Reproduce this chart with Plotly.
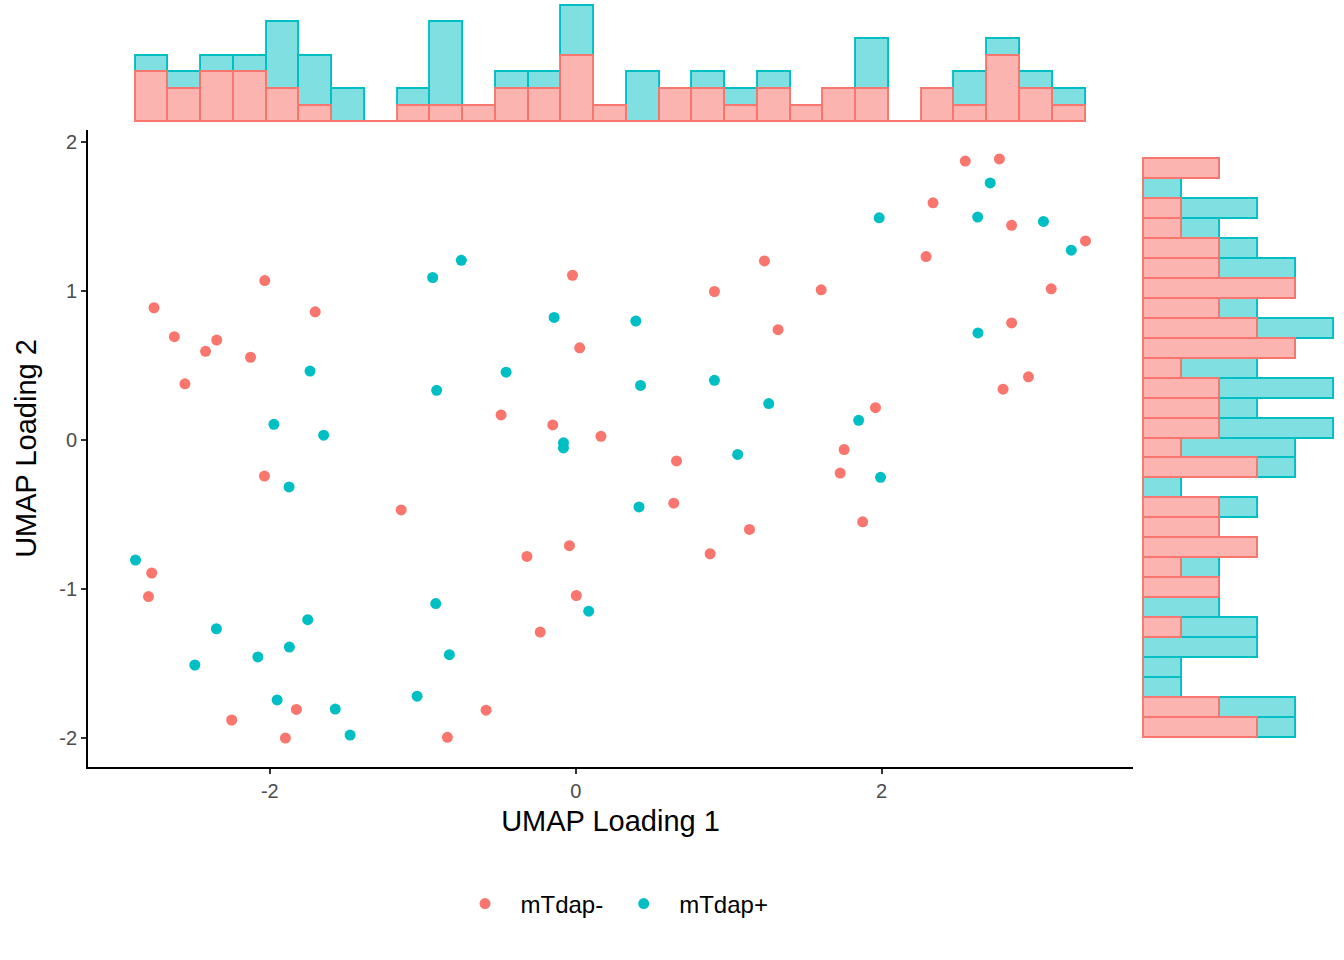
import numpy as np
import plotly.graph_objects as go

# ---------------- data ----------------
groups = ["mTdap-", "mTdap+"]

neg_x = [-2.757, -2.624, -2.347, -2.420, -2.555, -2.126, -2.033, -1.703, -0.021, 0.026,
         -0.488, -0.150, 0.165, -2.035, -1.141, -2.772, -2.793, -2.249, -1.826, -1.898,
         -0.839, -0.586, -0.319, -0.041, 0.004, -0.232, 2.547, 2.770, 2.336, 2.850,
         3.333, 2.291, 1.234, 0.907, 1.605, 1.323, 3.109, 2.850, 2.960, 2.794,
         1.960, 0.659, 1.755, 1.729, 0.641, 1.136, 0.879, 1.876]
neg_y = [0.887, 0.693, 0.670, 0.595, 0.377, 0.555, 1.069, 0.860, 1.105, 0.618,
         0.168, 0.101, 0.025, -0.242, -0.469, -0.892, -1.050, -1.878, -1.807, -1.999,
         -1.994, -1.812, -0.781, -0.709, -1.043, -1.288, 1.871, 1.885, 1.591, 1.440,
         1.335, 1.230, 1.201, 0.996, 1.007, 0.740, 1.014, 0.785, 0.424, 0.341,
         0.217, -0.140, -0.064, -0.222, -0.424, -0.600, -0.763, -0.549]

pos_x = [-0.935, -0.748, -0.141, -1.737, -0.909, -0.455, -1.973, -1.648, -0.080, -0.080,
         -1.874, -2.878, -2.349, -2.490, -2.078, -1.872, -1.752, -1.952, -1.572, -1.475,
         -0.915, -0.826, -1.037, 0.085, 2.710, 1.984, 2.628, 3.058, 3.240, 2.630,
         0.393, 0.424, 0.907, 1.262, 1.850, 1.059, 1.993, 0.414]
pos_y = [1.090, 1.205, 0.822, 0.462, 0.333, 0.455, 0.105, 0.032, -0.019, -0.053,
         -0.315, -0.805, -1.266, -1.509, -1.455, -1.389, -1.205, -1.743, -1.805, -1.979,
         -1.097, -1.440, -1.718, -1.148, 1.724, 1.490, 1.495, 1.466, 1.273, 0.718,
         0.798, 0.366, 0.400, 0.244, 0.132, -0.097, -0.250, -0.449]

x_ticks = [-2, 0, 2]
x_tick_labels = ["-2", "0", "2"]
y_ticks = [-2, -1, 0, 1, 2]
y_tick_labels = ["-2", "-1", "0", "1", "2"]
N_BINS = 29

# ---------------- styling ----------------
RED = "#F8766D"
TEAL = "#00BFC4"
RED_FILL = "rgba(248,118,109,0.55)"
TEAL_FILL = "rgba(0,191,196,0.5)"
FONT = "Arial, Liberation Sans, Helvetica, sans-serif"
W, H = 1344, 960

# ---------------- binning (from data) ----------------
all_x = np.array(neg_x + pos_x)
all_y = np.array(neg_y + pos_y)
xedges = np.linspace(all_x.min(), all_x.max(), N_BINS + 1)
yedges = np.linspace(all_y.min(), all_y.max(), N_BINS + 1)
nx_c, _ = np.histogram(neg_x, xedges)
px_c, _ = np.histogram(pos_x, xedges)
ny_c, _ = np.histogram(neg_y, yedges)
py_c, _ = np.histogram(pos_y, yedges)
xcent = (xedges[:-1] + xedges[1:]) / 2
ycent = (yedges[:-1] + yedges[1:]) / 2
xw = np.diff(xedges)
yw = np.diff(yedges)

xr = all_x.max() - all_x.min()
yr = all_y.max() - all_y.min()
x_range = [all_x.min() - 0.05 * xr, all_x.max() + 0.05 * xr]
y_range = [all_y.min() - 0.05 * yr, all_y.max() + 0.05 * yr]
top_max = (nx_c + px_c).max()
right_max = (ny_c + py_c).max()

fig = go.Figure()

# top marginal histogram (stacked: mTdap- at base, mTdap+ on top)
fig.add_trace(go.Bar(x=xcent, y=px_c, base=nx_c, width=xw, xaxis="x2", yaxis="y2",
                     marker=dict(color=TEAL_FILL, line=dict(color=TEAL, width=1.9)),
                     showlegend=False, hoverinfo="skip"))
fig.add_trace(go.Bar(x=xcent, y=nx_c, width=xw, xaxis="x2", yaxis="y2",
                     marker=dict(color=RED_FILL, line=dict(color=RED, width=1.9)),
                     showlegend=False, hoverinfo="skip"))
# right marginal histogram
fig.add_trace(go.Bar(y=ycent, x=py_c, base=ny_c, width=yw, orientation="h", xaxis="x3", yaxis="y3",
                     marker=dict(color=TEAL_FILL, line=dict(color=TEAL, width=1.9)),
                     showlegend=False, hoverinfo="skip"))
fig.add_trace(go.Bar(y=ycent, x=ny_c, width=yw, orientation="h", xaxis="x3", yaxis="y3",
                     marker=dict(color=RED_FILL, line=dict(color=RED, width=1.9)),
                     showlegend=False, hoverinfo="skip"))

# scatter
fig.add_trace(go.Scatter(x=neg_x, y=neg_y, mode="markers", name=groups[0],
                         marker=dict(color=RED, size=11, line=dict(width=0))))
fig.add_trace(go.Scatter(x=pos_x, y=pos_y, mode="markers", name=groups[1],
                         marker=dict(color=TEAL, size=11, line=dict(width=0))))

main_xdom = [88 / W, 1133 / W]
main_ydom = [1 - 767 / H, 1 - 130 / H]

axis_common = dict(showline=True, linecolor="black", linewidth=1.8, ticks="outside",
                   ticklen=5, tickwidth=1.8, tickcolor="#333333", showgrid=False,
                   zeroline=False, tickfont=dict(size=20, color="#4D4D4D", family=FONT),
                   automargin=False)

fig.update_layout(
    width=W, height=H,
    margin=dict(l=0, r=0, t=0, b=0),
    paper_bgcolor="white", plot_bgcolor="white",
    font=dict(family=FONT, color="black"),
    barmode="overlay", bargap=0,
    xaxis=dict(domain=main_xdom, range=x_range, tickvals=x_ticks, ticktext=x_tick_labels,
               anchor="y",
               title=dict(text="UMAP Loading 1", font=dict(size=29), standoff=10),
               **axis_common),
    yaxis=dict(domain=main_ydom, range=y_range, tickvals=y_ticks, ticktext=y_tick_labels,
               anchor="x",
               title=dict(text="UMAP Loading 2", font=dict(size=29), standoff=14),
               **axis_common),
    xaxis2=dict(domain=main_xdom, matches="x", anchor="y2", visible=False),
    yaxis2=dict(domain=[1 - 128 / H, 1], range=[-0.05 * top_max, 1.05 * top_max],
                anchor="x2", visible=False),
    xaxis3=dict(domain=[1134 / W, 1], range=[-0.05 * right_max, 1.05 * right_max],
                anchor="y3", visible=False),
    yaxis3=dict(domain=main_ydom, matches="y", anchor="x3", visible=False),
    legend=dict(orientation="h", x=0.455, xanchor="center", y=1 - 904 / H, yanchor="middle",
                itemwidth=61,
                font=dict(size=24, color="black"), bgcolor="rgba(0,0,0,0)"),
    showlegend=True,
)

fig.write_html("out.html", config={"displayModeBar": False},
               post_script="document.body.style.margin='0px';")
